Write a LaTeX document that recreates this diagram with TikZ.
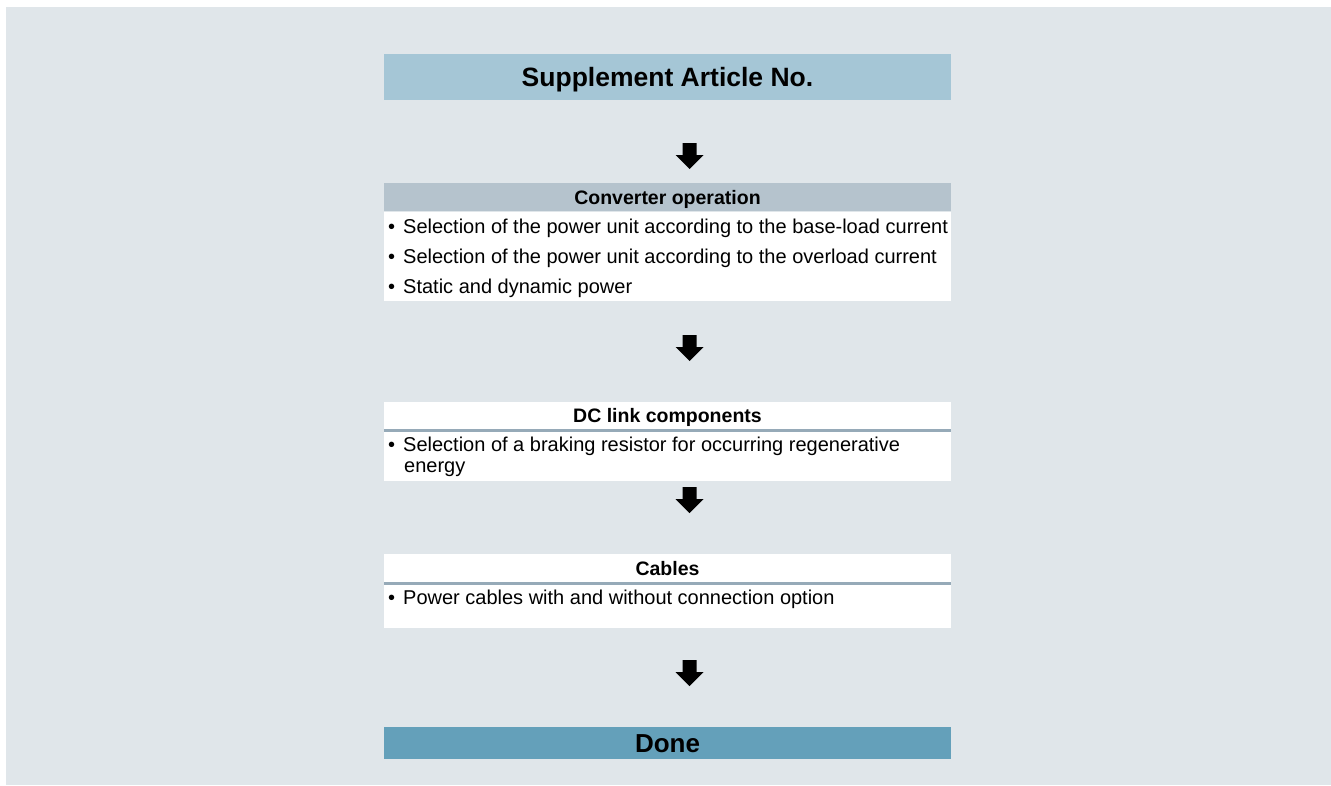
\documentclass[tikz,border=0pt]{standalone}
\usepackage{fontspec}
\setmainfont{Liberation Sans}
\definecolor{bgc}{RGB}{224,230,234}
\definecolor{supc}{RGB}{165,198,214}
\definecolor{hdrc}{RGB}{181,195,205}
\definecolor{linec}{RGB}{150,170,184}
\definecolor{donec}{RGB}{100,160,186}
\tikzset{
  box/.style={rectangle, inner sep=0pt, minimum width=567pt, anchor=north, text depth=0pt},
  hdrtext/.style={font=\fontsize{19.5}{23}\selectfont\bfseries},
  bodytext/.style={font=\fontsize{20}{21}\selectfont, inner sep=0pt, anchor=west, align=left},
  blockarrow/.pic={\fill[black] (-7,0) -- (7,0) -- (7,12) -- (14,12) -- (0,26) -- (-14,12) -- (-7,12) -- cycle;}
}
\newcommand{\bul}{\textbullet\hspace{8pt}}
\begin{document}
\begin{tikzpicture}[x=1pt,y=-1pt]
\useasboundingbox (0,0) rectangle (1331,785);
\fill[white] (0,0) rectangle (1331,785);
\fill[bgc] (6,7) rectangle (1331,785);

% Supplement
\node[box, fill=supc, minimum height=46pt, font=\fontsize{26.5}{30}\selectfont\bfseries] (sup) at (667.5,54) {Supplement Article No.};

% Converter operation
\node[box, fill=hdrc, minimum height=28pt, hdrtext] (convh) at (667.5,183) {Converter operation};
\node[box, fill=white, minimum height=89pt] (convb) at (convh.south) {};
\node[bodytext] (c1) at (388,228) {\bul Selection of the power unit according to the base-load current};
\node[bodytext] (c2) at (388,258) {\bul Selection of the power unit according to the overload current};
\node[bodytext] (c3) at (388,288) {\bul Static and dynamic power};

% DC link
\node[box, fill=white, minimum height=79pt] (dcb) at (667.5,402) {};
\node[hdrtext, inner sep=0pt] (dch) at (667.5,417) {DC link components};
\draw[linec, line width=3pt] ([yshift=-28.5pt]dcb.north west) -- ([yshift=-28.5pt]dcb.north east);
\node[bodytext, anchor=north west] (d1) at (388,437) {\bul Selection of a braking resistor for occurring regenerative\\[0pt]\hspace{16pt}energy};

% Cables
\node[box, fill=white, minimum height=74pt] (cab) at (667.5,554) {};
\node[hdrtext, inner sep=0pt] (cah) at (667.5,569) {Cables};
\draw[linec, line width=3pt] ([yshift=-29.5pt]cab.north west) -- ([yshift=-29.5pt]cab.north east);
\node[bodytext] (k1) at (388,599) {\bul Power cables with and without connection option};

% Done
\node[box, fill=donec, minimum height=32pt, font=\fontsize{26}{30}\selectfont\bfseries] (done) at (667.5,727) {Done};

% arrows
\coordinate (a1) at (689.5,143);
\coordinate (a2) at (689.5,335);
\coordinate (a3) at (689.5,487);
\coordinate (a4) at (689.5,660);
\pic at (a1) {blockarrow};
\pic at (a2) {blockarrow};
\pic at (a3) {blockarrow};
\pic at (a4) {blockarrow};
\end{tikzpicture}
\end{document}
